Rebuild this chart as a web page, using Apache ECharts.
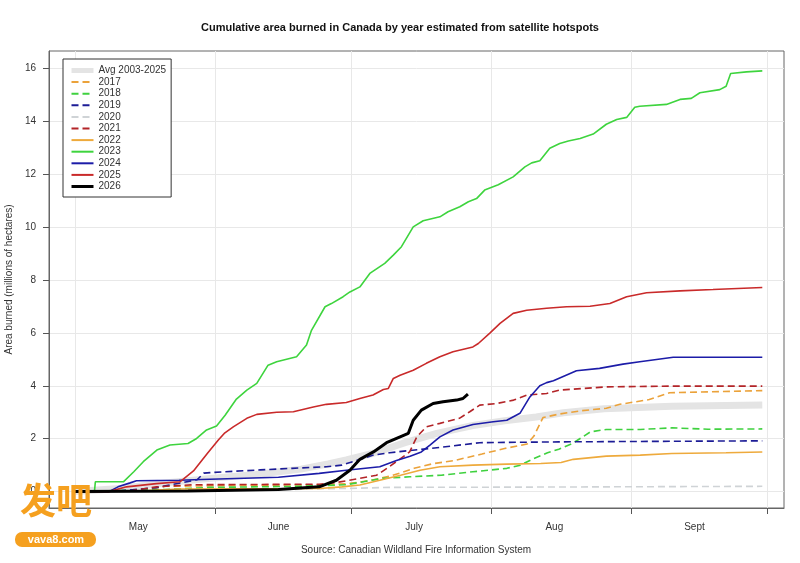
<!DOCTYPE html>
<html>
<head>
<meta charset="utf-8">
<script src="https://cdn.jsdelivr.net/npm/echarts@6/dist/echarts.min.js"></script>
<style>
html, body { margin: 0; padding: 0; background: #fff; }
#chart { width: 800px; height: 563px; }
</style>
</head>
<body>
<div id="chart"></div>
<script>
// x = days since May 1 (May 1 = 0, Oct 1 = 153), y = millions of hectares
var monthTicks = [31, 61, 92, 123, 153];
var gridDays = [0, 31, 61, 92, 123, 153];
var monthLabelDays = [14, 45, 75, 106, 137];
var monthNames = ['May', 'June', 'July', 'Aug', 'Sept'];
var yTicks = [0, 2, 4, 6, 8, 10, 12, 14, 16];

var avg = [[0,0],[10,0.12],[20,0.33],[30,0.5],[40,0.65],[50,0.85],[56,1.05],[60,1.2],[66,1.45],[73,1.85],[80,2.2],[88,2.5],[95,2.68],[102,2.82],[108,2.98],[117,3.13],[132,3.23],[152,3.27]];
var y2017 = [[0,0],[15,0.04],[20,0.2],[40,0.24],[55,0.26],[60,0.3],[63,0.36],[66,0.45],[70,0.6],[75,0.88],[79,1.05],[84,1.18],[90,1.42],[95,1.63],[100,1.8],[101.5,2.1],[103.5,2.8],[107,2.93],[112,3.06],[117.5,3.15],[120.5,3.3],[127,3.48],[131.5,3.74],[140,3.77],[152,3.82]];
var y2018 = [[0,0],[20,0.08],[30,0.16],[50,0.2],[60,0.26],[63,0.35],[68,0.5],[74,0.56],[81,0.62],[88,0.75],[95.5,0.88],[98.5,1.0],[101.5,1.25],[104.5,1.47],[107,1.6],[110,1.82],[114,2.26],[117.5,2.35],[125,2.35],[132,2.41],[140,2.36],[152,2.37]];
var y2019 = [[0,0],[10,0.03],[18,0.15],[27,0.45],[28.5,0.7],[33,0.75],[41,0.82],[48,0.88],[55.6,0.94],[59,1.0],[64,1.27],[66,1.38],[69.6,1.47],[73.3,1.54],[80.7,1.67],[89.5,1.85],[107,1.88],[152,1.92]];
var y2020 = [[0,0],[20,0.02],[40,0.06],[60,0.12],[70,0.16],[100,0.17],[152,0.2]];
var y2021 = [[0,0],[12,0.02],[18,0.18],[26,0.26],[54,0.28],[58,0.35],[63,0.5],[66.7,0.62],[69,0.88],[72,1.25],[74,1.5],[75.6,2.07],[77.7,2.45],[80.7,2.58],[85,2.77],[87.3,3.02],[89.5,3.27],[93.2,3.33],[97,3.46],[100,3.65],[104.3,3.71],[107.2,3.84],[117.5,3.96],[132,3.99],[152,3.99]];
var y2022 = [[0,0],[15,0.03],[23,0.1],[54,0.12],[59,0.18],[63,0.25],[67.4,0.43],[72,0.62],[76.3,0.81],[80.7,0.94],[88,1.0],[95.5,1.04],[103,1.06],[107.5,1.1],[110.2,1.22],[117.5,1.34],[125,1.38],[132,1.44],[144,1.47],[152,1.5]];
var y2023 = [[0,0],[4.3,0],[4.5,0.37],[10.7,0.37],[13,0.75],[15.1,1.13],[18.1,1.57],[21,1.76],[25,1.82],[26.9,2.01],[29.1,2.33],[31.3,2.48],[33.2,2.89],[35.7,3.5],[38,3.84],[40.2,4.09],[42.7,4.78],[44.6,4.91],[49,5.1],[51.2,5.54],[52.3,6.1],[55.3,6.99],[56.7,7.11],[59.3,7.37],[60.8,7.55],[63,7.74],[65.2,8.25],[68.5,8.63],[70.4,8.94],[72.2,9.26],[74.8,10.01],[77,10.24],[80.7,10.39],[82.5,10.58],[85.1,10.77],[87,10.96],[88.8,11.08],[90.6,11.4],[93.6,11.6],[96.9,11.9],[99.5,12.28],[101,12.43],[102.8,12.51],[105,12.98],[107.2,13.16],[109.1,13.26],[111.7,13.35],[114.6,13.52],[117.5,13.89],[119.8,14.07],[122,14.15],[123.8,14.53],[124.9,14.57],[130.8,14.64],[133.8,14.83],[136.3,14.87],[138.2,15.08],[142.6,15.2],[144,15.33],[145,15.81],[148.5,15.87],[152,15.91]];
var y2024 = [[0,0],[7.5,0],[9.5,0.18],[12.2,0.33],[13.6,0.41],[23,0.43],[28,0.46],[45,0.54],[54,0.69],[60,0.81],[67.4,0.94],[71.1,1.18],[74.1,1.34],[76.6,1.5],[78.5,1.76],[80.7,2.07],[83.6,2.33],[88,2.54],[92.5,2.64],[95.5,2.7],[98.4,2.96],[100.6,3.58],[102.8,4.0],[104.3,4.12],[105.8,4.19],[110.9,4.57],[116,4.66],[121.2,4.82],[124.9,4.91],[132.3,5.08],[152,5.08]];
var y2025 = [[0,0],[7.5,0],[11.4,0.18],[18,0.3],[23.2,0.37],[26.2,0.78],[29.3,1.45],[31.7,1.95],[33,2.2],[35,2.45],[38,2.77],[40.2,2.92],[44.6,3.0],[48.3,3.02],[52.7,3.2],[55.6,3.3],[60,3.37],[63,3.52],[65.9,3.65],[68.2,3.86],[69.3,3.9],[70.4,4.28],[71.9,4.4],[74.8,4.59],[77.7,4.85],[80.7,5.1],[83.6,5.29],[88,5.47],[89.2,5.6],[91.8,6.0],[94,6.36],[96.9,6.74],[99.9,6.86],[104.3,6.93],[108.7,6.99],[113.9,7.01],[118.3,7.11],[122,7.37],[126.4,7.52],[133.8,7.59],[141.1,7.64],[152,7.72]];
var y2026 = [[0,0],[25,0.02],[45,0.08],[54,0.18],[57.8,0.43],[60.8,0.81],[63,1.22],[66,1.5],[68.9,1.85],[71.9,2.07],[73.7,2.2],[74.8,2.7],[76.6,3.08],[79.2,3.33],[81.4,3.4],[84.4,3.46],[85.8,3.52],[86.9,3.69]];

var font = 'Liberation Sans, Arial, sans-serif';
var dash = [7, 4];

// name, data, colour, width, line type
var lines = [
    ['Avg 2003-2025', avg, '#e4e4e4', 7, 'solid'],
    ['2017', y2017, '#eba23a', 1.6, dash],
    ['2018', y2018, '#3fd13f', 1.6, dash],
    ['2019', y2019, '#1c1c96', 1.6, dash],
    ['2020', y2020, '#cfd3d6', 1.6, dash],
    ['2021', y2021, '#b32428', 1.6, dash],
    ['2022', y2022, '#eeaa3c', 1.6, 'solid'],
    ['2023', y2023, '#3ed43e', 1.6, 'solid'],
    ['2024', y2024, '#1c1ca8', 1.6, 'solid'],
    ['2025', y2025, '#c92a2a', 1.6, 'solid'],
    ['2026', y2026, '#000000', 3, 'solid']
];

var myChart = echarts.init(document.getElementById('chart'));
var option = {
    animation: false,
    backgroundColor: '#fff',
    textStyle: { fontFamily: font },
    grid: {
        left: 49, right: 16, top: 51, bottom: 55,
        containLabel: false,
        outerBoundsMode: 'none',
        show: true, borderColor: '#666', borderWidth: 1
    },
    legend: {
        orient: 'vertical',
        left: 63, top: 59,
        padding: [6, 5, 5, 6],
        backgroundColor: '#fff',
        borderColor: '#333', borderWidth: 1,
        itemWidth: 22, itemHeight: 8, itemGap: 0.6,
        itemStyle: { opacity: 0 },
        textStyle: { fontSize: 10, color: '#333', fontFamily: font, lineHeight: 11 },
        data: lines.map(function (l) {
            return { name: l[0], lineStyle: { width: l[3] > 2 ? Math.min(l[3], 5) : 2 } };
        })
    },
    xAxis: [{
        type: 'value',
        min: -5.75, max: 156.8,
        axisLine: { onZero: false, lineStyle: { color: '#666' } },
        axisTick: { customValues: monthTicks, length: 6, lineStyle: { color: '#555' } },
        axisLabel: {
            customValues: monthLabelDays, margin: 14,
            fontSize: 10, color: '#333', fontFamily: font,
            formatter: function (v) { return monthNames[monthLabelDays.indexOf(v)]; }
        },
        splitLine: { show: false }
    }, {
        // only for the vertical grid lines at month starts
        type: 'value',
        min: -5.75, max: 156.8,
        position: 'bottom',
        axisLine: { show: false, onZero: false },
        axisTick: { show: false, customValues: gridDays },
        axisLabel: { show: false },
        splitLine: { show: true, lineStyle: { color: '#e8e8e8', width: 1 } }
    }],
    yAxis: {
        type: 'value',
        min: -0.62, max: 16.66,
        name: 'Area burned (millions of hectares)',
        nameLocation: 'middle', nameRotate: 90, nameGap: 34,
        nameTextStyle: { fontSize: 10, color: '#333', fontFamily: font },
        axisLine: { show: true, onZero: false, lineStyle: { color: '#666' } },
        axisTick: { show: true, customValues: yTicks, length: 6, lineStyle: { color: '#555' } },
        axisLabel: { customValues: yTicks, margin: 13, fontSize: 10, color: '#333', fontFamily: font },
        splitLine: { show: true, lineStyle: { color: '#e8e8e8', width: 1 } }
    },
    graphic: [
        { type: 'text', left: 416 - 215, top: 22, z: 10,
          style: { text: 'Cumulative area burned in Canada by year estimated from satellite hotspots',
                   font: 'bold 11px ' + font, fill: '#111', width: 430, align: 'center' } },
        { type: 'text', x: 416, y: 550, z: 10,
          style: { text: 'Source: Canadian Wildland Fire Information System',
                   font: '10px ' + font, fill: '#333', align: 'center', verticalAlign: 'middle' } },
        { type: 'text', x: 56, y: 500, z: 20,
          style: { text: '发吧', font: 'bold 36px "Noto Sans CJK SC"', fill: '#f5a01f',
                   align: 'center', verticalAlign: 'middle' } },
        { type: 'rect', shape: { x: 15, y: 532, width: 81, height: 15, r: 7 }, z: 20,
          style: { fill: '#f5a01f' } },
        { type: 'text', x: 56, y: 540, z: 21,
          style: { text: 'vava8.com', font: 'bold 11px ' + font, fill: '#fff',
                   align: 'center', verticalAlign: 'middle' } }
    ],
    series: lines.map(function (l, i) {
        return {
            name: l[0],
            type: 'line',
            xAxisIndex: 0,
            data: l[1],
            symbol: 'none',
            smooth: false,
            z: 2 + i,
            color: l[2],
            lineStyle: { color: l[2], width: l[3], type: l[4] }
        };
    })
};
myChart.setOption(option);
</script>
</body>
</html>
